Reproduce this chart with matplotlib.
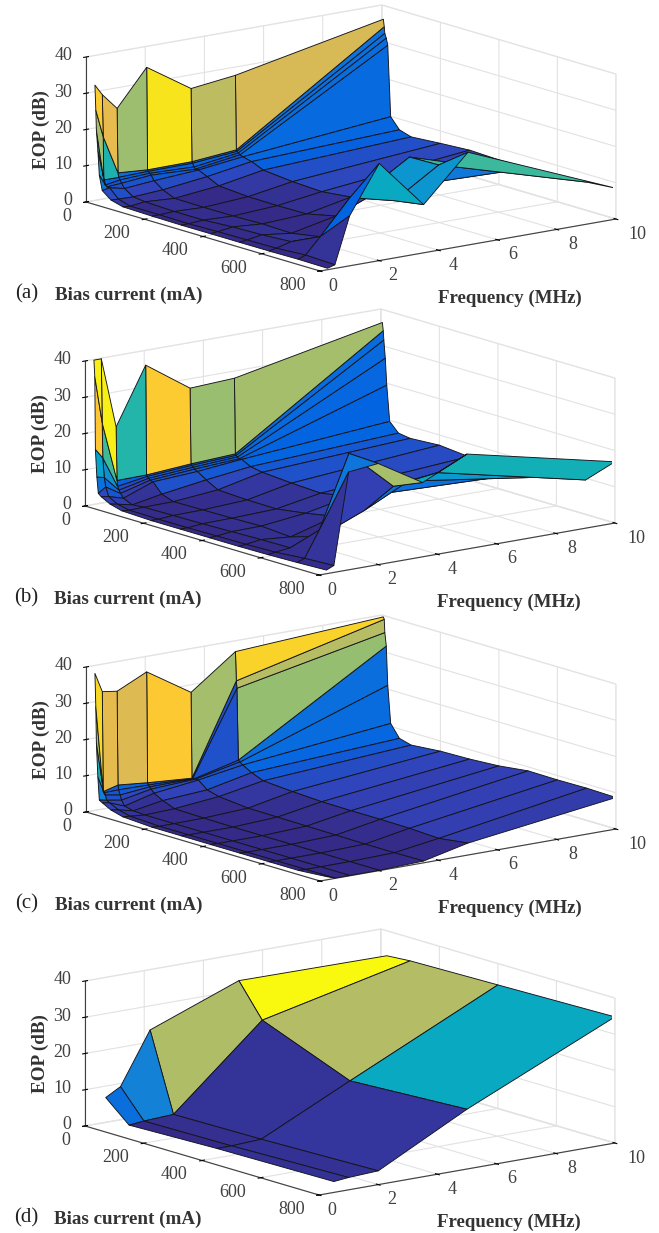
import numpy as np
import matplotlib
matplotlib.use('Agg')
import matplotlib.pyplot as plt
from matplotlib.colors import LinearSegmentedColormap
from matplotlib.transforms import offset_copy
from mpl_toolkits.mplot3d import proj3d

plt.rcParams['font.family'] = ['Liberation Serif', 'DejaVu Serif']

W_PX, H_PX = 659, 1233

# grid of panels a, b, c
bias = [5, 8, 10, 15, 20, 30, 60, 100, 200, 300, 400, 500, 600, 700, 800]
freq = [0.25, 0.5, 1, 2, 3.5, 5, 10]

# rows follow bias, columns follow freq
eop_a = [
    [32.0, 29.0, 24.5, 34.4, 26.4, 27.9, 36.2],
    [25.2, 17.5, 6.8, 6.2, 6.3, 7.4, 34.2],
    [19.7, 5.6, 5.6, 5.8, 5.9, 7.0, 32.4],
    [14.3, 4.3, 5.0, 5.4, 5.0, 6.7, 31.2],
    [7.5, 3.9, 4.2, 5.0, 4.5, 6.3, 29.4],
    [3.5, 3.9, 3.0, 3.7, 4.5, 6.0, 9.9],
    [1.6, 1.5, 1.4, 1.9, 3.4, 5.4, 7.0],
    [0.7, 0.5, 1.0, 0.5, 1.8, 4.0, 6.0],
    [0.5, 0.5, 0.7, 0.4, 1.2, 3.2, 6.6],
    [0.4, 0.4, 0.7, 0.4, 1.1, 2.8, 7.1],
    [0.4, 0.6, 1.2, 0.6, 1.2, 3.7, 6.8],
    [0.4, 0.7, 1.4, 0.4, 3.0, 8.0, 6.9],
    [0.4, 0.8, 1.9, 1.8, 12.0, 19.5, 6.8],
    [0.5, 1.3, 5.7, 15.0, 12.0, 19.7, 7.8],
    [0.4, 1.0, 13.8, 26.8, 13.3, 25.6, 8.5],
]
eop_b = [
    [40.0, 40.0, 20.5, 36.1, 27.6, 28.2, 36.4],
    [35.5, 22.4, 5.8, 5.9, 6.8, 7.4, 34.2],
    [15.5, 12.8, 4.2, 5.5, 6.4, 7.0, 31.7],
    [8.0, 7.5, 3.3, 5.1, 6.0, 6.7, 26.8],
    [3.6, 5.0, 2.5, 4.7, 5.6, 6.3, 19.5],
    [2.9, 2.6, 1.4, 4.5, 5.2, 6.4, 9.7],
    [1.6, 1.2, 0.3, 1.8, 3.6, 5.1, 7.2],
    [0.7, 0.5, 0.6, 0.7, 1.8, 4.5, 6.7],
    [0.4, 0.4, 0.7, 0.8, 1.4, 3.9, 7.2],
    [0.4, 0.4, 0.8, 0.9, 1.3, 3.5, 6.4],
    [0.4, 0.5, 1.0, 1.1, 2.5, 5.0, 6.5],
    [0.4, 0.6, 1.2, 0.5, 4.0, 8.0, 6.7],
    [0.5, 0.8, 1.3, 3.0, 8.0, 14.0, 8.0],
    [0.7, 1.5, 8.6, 28.3, 17.1, 18.7, 9.5],
    [1.0, 1.9, 27.0, 27.9, 20.5, 26.2, 16.9],
]
eop_c = [
    [38.0, 32.6, 32.0, 35.9, 28.1, 37.2, 39.6],
    [28.9, 5.1, 6.2, 5.4, 4.5, 29.2, 39.0],
    [18.9, 4.8, 4.9, 4.8, 4.4, 27.2, 35.4],
    [9.7, 4.3, 3.6, 4.4, 4.5, 7.5, 31.8],
    [3.4, 3.0, 2.3, 3.9, 4.5, 7.1, 21.1],
    [2.9, 2.5, 0.9, 3.0, 4.5, 6.5, 10.8],
    [1.6, 1.3, 0.3, 1.7, 2.5, 5.1, 7.4],
    [0.7, 0.5, 0.1, 0.4, 1.6, 3.8, 6.5],
    [0.2, 0.1, 0.1, 0.2, 0.8, 3.2, 7.2],
    [0.2, 0.1, 0.1, 0.1, 0.7, 2.8, 7.4],
    [0.2, 0.1, 0.1, 0.1, 0.6, 2.7, 7.9],
    [0.2, 0.1, 0.1, 0.1, 0.5, 2.7, 8.9],
    [0.2, 0.1, 0.1, 0.1, 0.4, 2.6, 8.8],
    [0.2, 0.1, 0.1, 0.1, 0.4, 2.2, 8.9],
    [0.8, 0.1, 0.1, 0.1, 0.5, 3.3, 8.7],
]

# panel d is on a coarser grid
bias_d = [20, 100, 400, 800]
freq_d = [0.5, 1, 2, 5, 10]
eop_d = [
    [7.6, 9.9, 24.1, 33.4, 33.1],
    [1.9, 2.3, 2.7, 24.4, 33.6],
    [2.6, 2.6, 3.0, 14.8, 34.1],
    [3.0, 3.4, 3.8, 16.5, 34.8],
]

panels = ['(a)', '(b)', '(c)', '(d)']
bias_ticks = [0, 200, 400, 600, 800]
freq_ticks = [0, 2, 4, 6, 8, 10]
eop_ticks = [0, 10, 20, 30, 40]

parula = LinearSegmentedColormap.from_list('parula', [
    (.2081, .1663, .5292), (.1959, .2645, .7279), (.0117, .3875, .8820),
    (.0629, .4737, .8554), (.0749, .5375, .8263), (.0239, .6287, .8038),
    (.0384, .6743, .7436), (.1453, .7098, .6646), (.3022, .7376, .5712),
    (.5300, .7491, .4661), (.7184, .7411, .3905), (.8824, .7274, .3217),
    (.9990, .7653, .2164), (.9697, .8481, .1475), (.9763, .9831, .0538)])

# axes box in pixels, one panel is shifted by dx, dy from panel a
AX_SIZE = 539.2
AX_LEFT = 74.1
AX_BOTTOM = 414.9
TICK_COLOR = '#404040'
LABEL_COLOR = '#333333'


def px_text(x, y, s, **kw):
    return fig.text(x / W_PX, 1 - y / H_PX, s, va='center', ha='left', **kw)


def tick_label(ax, x, y, z, s, off_x, off_y, ha):
    # project the tick by hand, offsets in pixels from it
    xp, yp, _ = proj3d.proj_transform(x, y, z, ax.get_proj())
    tr = offset_copy(ax.transData, fig=fig, x=off_x, y=off_y, units='dots')
    ax.text2D(xp, yp, s, transform=tr, ha=ha, va='center', fontsize=13,
              color=TICK_COLOR, clip_on=False)


def draw_panel(bias_vals, freq_vals, eop, clim_top, name, dx, dy):
    ax = fig.add_axes([(AX_LEFT + dx) / W_PX, 1 - (AX_BOTTOM + dy) / H_PX,
                       AX_SIZE / W_PX, AX_SIZE / H_PX],
                      projection='3d', proj_type='ortho', computed_zorder=False)
    ax.set_facecolor('none')
    ax.view_init(elev=13.16, azim=-37.66)
    ax.set_box_aspect((383, 373.7, 148.9))
    ax.set_xlim(0, 800, view_margin=0)
    ax.set_ylim(0, 10, view_margin=0)
    ax.set_zlim(0, 40, view_margin=0)

    z = np.array(eop)
    y, x = np.meshgrid(freq_vals, bias_vals)
    colors = parula((z - z.min()) / (clim_top - z.min()))
    surf = ax.plot_surface(x, y, z, facecolors=colors, rstride=1, cstride=1,
                           shade=False, linewidth=0.65)
    surf.set_edgecolor((0.08, 0.08, 0.1, 1))

    ax.set_xticks(bias_ticks)
    ax.set_yticks(freq_ticks)
    ax.set_zticks(eop_ticks)
    ax.set_xticklabels([])
    ax.set_yticklabels([])
    ax.set_zticklabels([])
    ax.zaxis.set_ticks_position('lower')
    for axis in (ax.xaxis, ax.yaxis, ax.zaxis):
        axis.pane.set_facecolor((1, 1, 1, 0))
        axis.pane.set_edgecolor('#e2e2e2')
        axis._axinfo['grid'].update(color='#e2e2e2', linewidth=0.8)
        axis._axinfo['tick'].update(inward_factor=0.1, outward_factor=0.1,
                                    color=TICK_COLOR)
        axis.line.set_color(TICK_COLOR)
        axis.line.set_linewidth(0.8)

    for b in bias_ticks:
        tick_label(ax, b, 0, 0, str(b), -14.5, -14.5, 'right')
    for f in freq_ticks:
        tick_label(ax, 800, f, 0, str(f), 8.5 + 0.4 * f, -15, 'left')
    for e in eop_ticks:
        tick_label(ax, 0, 0, e, str(e), -14, 1, 'right')

    px_text(15 + dx, 294 + dy, name, fontsize=15, color='#222222')
    px_text(55 + dx, 295 + dy, 'Bias current (mA)', fontsize=13.7,
            fontweight='bold', color=LABEL_COLOR)
    px_text(438 + dx, 298 + dy, 'Frequency (MHz)', fontsize=13.6,
            fontweight='bold', color=LABEL_COLOR)
    fig.text((41 + dx) / W_PX, 1 - (130 + dy) / H_PX, 'EOP (dB)', fontsize=13.8,
             fontweight='bold', color=LABEL_COLOR, rotation=90,
             ha='center', va='center')


fig = plt.figure(figsize=(W_PX / 100, H_PX / 100), dpi=100)
draw_panel(bias, freq, eop_a, 36.2, panels[0], 0, 0)
draw_panel(bias, freq, eop_b, 41, panels[1], -1, 304)
draw_panel(bias, freq, eop_c, 41, panels[2], 0, 610)
draw_panel(bias_d, freq_d, eop_d, 33.6, panels[3], -1, 924)
fig.savefig('out.png', dpi=100)
